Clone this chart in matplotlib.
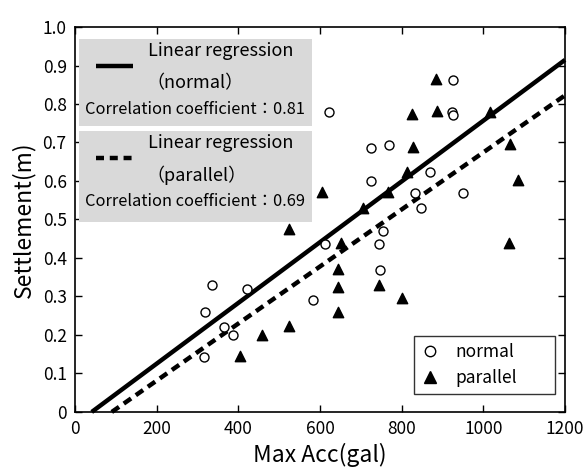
import matplotlib
matplotlib.use("Agg")
import matplotlib.pyplot as plt
import numpy as np
from matplotlib.patches import Rectangle
from matplotlib.lines import Line2D

plt.rcParams['font.family'] = ['Noto Sans CJK JP', 'DejaVu Sans']

normal_x = [316, 318, 336, 365, 387, 421, 583, 612, 622, 725, 725, 770, 745, 754, 747,
            833, 848, 870, 926, 923, 926, 950]
normal_y = [0.143, 0.26, 0.33, 0.221, 0.2, 0.32, 0.29, 0.436, 0.78, 0.6, 0.686, 0.694, 0.436,
            0.47, 0.369, 0.569, 0.53, 0.623, 0.862, 0.779, 0.771, 0.569]
parallel_x = [404, 458, 524, 524, 605, 644, 644, 644, 651, 706, 745, 767, 801, 813, 825, 828,
              884, 887, 1016, 1063, 1065, 1085]
parallel_y = [0.145, 0.2, 0.224, 0.475, 0.571, 0.26, 0.325, 0.372, 0.44, 0.53, 0.33, 0.571,
              0.296, 0.623, 0.773, 0.688, 0.865, 0.782, 0.78, 0.44, 0.696, 0.603]

# regression (slope, intercept)
normal_fit = (0.000789, -0.0323)
parallel_fit = (0.000741, -0.0667)
normal_r = "0.81"
parallel_r = "0.69"

xticks = [0, 200, 400, 600, 800, 1000, 1200]
yticks = [0, 0.1, 0.2, 0.3, 0.4, 0.5, 0.6, 0.7, 0.8, 0.9, 1.0]
ytick_labels = ["0", "0.1", "0.2", "0.3", "0.4", "0.5", "0.6", "0.7", "0.8", "0.9", "1.0"]

fig = plt.figure(figsize=(5.87, 4.68), dpi=100)
ax = fig.add_axes([0.1278, 0.1197, 0.8347, 0.8226])
ax.set_xlim(0, 1200)
ax.set_ylim(0, 1.0)

def fit_line(fit):
    m, b = fit
    x0 = -b / m
    xs = np.array([x0, 1200])
    return xs, m * xs + b

xs, ys = fit_line(normal_fit)
ax.plot(xs, ys, color='black', lw=3.2, solid_capstyle='butt', zorder=3, clip_on=False)
xs, ys = fit_line(parallel_fit)
ax.plot(xs, ys, color='black', lw=3.2, ls=(0, (2.0, 1.3)), dash_capstyle='butt', zorder=3, clip_on=False)

ax.scatter(normal_x, normal_y, s=42, facecolors='white', edgecolors='black', linewidths=1.0,
           marker='o', zorder=4)
ax.scatter(parallel_x, parallel_y, s=56, color='black', marker='^', zorder=4)

ax.set_xticks(xticks)
ax.set_yticks(yticks)
ax.set_yticklabels(ytick_labels)
ax.tick_params(direction='in', length=5, width=1, top=True, right=True, labelsize=12.5, pad=6)
for s in ax.spines.values():
    s.set_linewidth(1.2)

ax.set_xlabel("Max Acc(gal)", fontsize=16.5, labelpad=3)
ax.set_ylabel("Settlement(m)", fontsize=16.5, labelpad=5)

# grey regression key boxes (pixel-based in figure coords)
W, H = 587.0, 468.0
def fx(px): return px / W
def fy(py): return 1 - py / H

for (top, bot, name, r, dashed) in [(39, 126, "（normal）", normal_r, False),
                                    (131, 222, "（parallel）", parallel_r, True)]:
    fig.patches.append(Rectangle((fx(79), fy(bot)), fx(312) - fx(79), fy(top) - fy(bot),
                                 transform=fig.transFigure, facecolor='#d9d9d9',
                                 edgecolor='none', zorder=5))
    ly = fy(top + 27)
    fig.add_artist(Line2D([fx(96), fx(133)], [ly, ly], transform=fig.transFigure, color='black',
                          lw=3.2, ls=(0, (1.8, 1.3)) if dashed else '-',
                          solid_capstyle='butt', dash_capstyle='butt', zorder=6))
    fig.text(fx(221), fy(top + 12), "Linear regression", ha='center', va='center', fontsize=13, zorder=6)
    fig.text(fx(146), fy(top + 44), name, ha='left', va='center', fontsize=13, zorder=6)
    fig.text(fx(195), fy(top + 71), "Correlation coefficient：" + r, ha='center', va='center',
             fontsize=11.8, zorder=6)

handles = [Line2D([], [], marker='o', ls='none', markerfacecolor='white', markeredgecolor='black',
                  markersize=7.5, markeredgewidth=1.0),
           Line2D([], [], marker='^', ls='none', color='black', markersize=8.5)]
leg_x0 = (414 - 75) / 490.0
leg_w = (555 - 414) / 490.0
leg_y0 = (412 - 394) / 385.0
leg_h = (394 - 336) / 385.0
leg = ax.legend(handles, ["normal", "parallel"], loc='lower left',
                bbox_to_anchor=(leg_x0, leg_y0, leg_w, leg_h), mode='expand', borderaxespad=0,
                frameon=True, fancybox=False, edgecolor='black', fontsize=12.5, handletextpad=1.0,
                borderpad=0.4, labelspacing=0.45, handlelength=1.0)
leg.get_frame().set_linewidth(1.0)

fig.savefig("out.png", dpi=100)
